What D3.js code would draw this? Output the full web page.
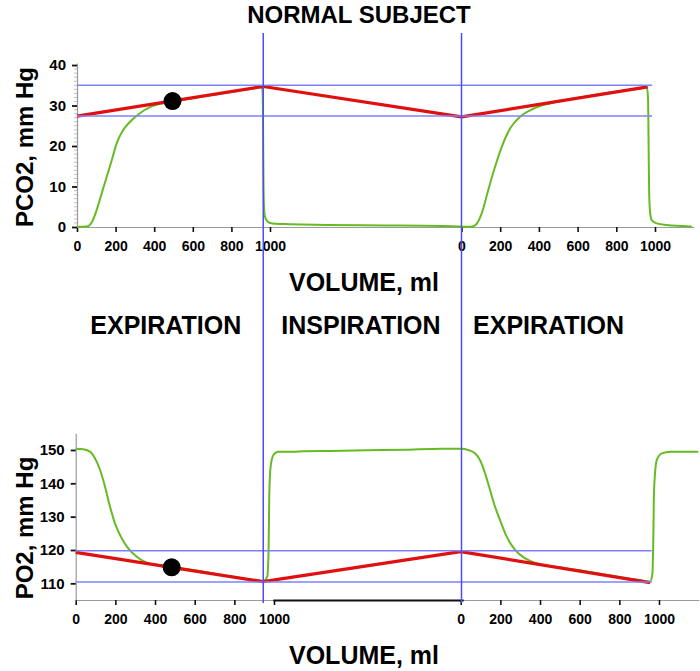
<!DOCTYPE html>
<html>
<head>
<meta charset="utf-8">
<script src="https://cdn.jsdelivr.net/npm/d3@7"></script>
<style>
  body { margin: 0; background: #fff; }
  svg { display: block; }
  text { font-family: "Liberation Sans", Arial, sans-serif; font-weight: bold; fill: #000; }
</style>
</head>
<body>
<svg id="chart" width="700" height="671"></svg>
<script>
// ---------- DATA ----------
// x position: first expiration 0..1000 ml, inspiration plotted 1000..2000, second expiration 2000 + volume
const xTickValues = [0, 200, 400, 600, 800, 1000, 2000, 2200, 2400, 2600, 2800, 3000];
const xTickLabels = ["0", "200", "400", "600", "800", "1000", "0", "200", "400", "600", "800", "1000"];
const phaseLabels = ["EXPIRATION", "INSPIRATION", "EXPIRATION"];
const phaseCenters = [460, 1475, 2450];
const phaseBoundaries = [965, 2000];

const pco2Ticks = [0, 10, 20, 30, 40];
const po2Ticks = [110, 120, 130, 140, 150];

const pco2Green = [
  [0,0],[50,0.1],[76,1.1],[102,4.2],[128,8.3],[154,12.4],[180,16.5],[206,20.7],[240,24.0],[275,26.0],
  [326,28.1],[378,29.6],[430,30.4],[500,31.0],[600,31.8],[700,32.6],[800,33.4],[900,34.1],[958,34.5],
  [962,33.5],[964,25],[966,12],[969,5],[974,2.5],[985,1.5],[1000,1.0],[1030,0.8],[1100,0.7],[1300,0.5],
  [1600,0.4],[1900,0.25],[1990,0.1],[2044,0.05],[2070,0.4],[2104,3.3],[2138,9.1],[2173,14.8],[2208,19.8],
  [2251,24.3],[2302,27.2],[2371,29.2],[2457,30.5],[2550,31.5],[2650,32.3],[2750,33.1],[2850,33.8],
  [2938,34.3],[2958,34.5],[2964,32],[2967,20],[2970,8],[2975,3.5],[2983,1.7],[3009,0.9],[3060,0.5],
  [3145,0.25],[3190,0.1]
];
const pco2Red = [[0,27.4],[965,34.7],[2000,27.2],[2962,34.6]];
const pco2Ref = [35.0, 27.4];
const pco2RefEnd = 2985;
const pco2Dot = [495, 31.1];

const po2Green = [
  [0,150.4],[38,150.2],[72,149.5],[97,147.5],[123,144],[148,139],[173,133],[198,128],[232,123.5],
  [265,120.5],[308,118],[358,116.2],[425,115.4],[500,114.8],[600,113.9],[700,112.9],[800,111.9],
  [900,111],[945,110.6],[966,112],[973,121],[976,136],[983,145],[997,148.5],[1023,149.5],[1100,149.5],
  [1157,149.6],[1300,149.7],[1500,149.9],[1700,150.1],[1900,150.4],[2005,150.4],[2038,150],[2072,149],
  [2097,147],[2123,143],[2148,138],[2173,133],[2198,129],[2232,124],[2274,120],[2325,117.5],[2384,116],
  [2500,114.8],[2600,113.9],[2700,112.9],[2800,111.9],[2900,111],[2955,110.5],[2967,113],[2972,126],
  [2975,138],[2989,147],[3014,149],[3056,149.5],[3198,149.5]
];
const po2Red = [[0,119.3],[945,110.5],[2000,119.5],[2955,110.2]];
const po2Ref = [119.8, 110.4];
const po2RefEnd = 2963;
const po2Dot = [484, 114.8];

// ---------- DRAW ----------
const svg = d3.select("#chart");
const BLUE_V = "#4c4cff", BLUE_H = "#8080ff", RED = "#e01010", GREEN = "#66bb22", AXIS = "#9a9a9a";

const xTop = d3.scaleLinear().domain([0, 1000, 2000, 3000, 3200]).range([77, 270, 461.5, 655, 693.7]);
const yTop = d3.scaleLinear().domain([0, 40.5]).range([227, 63]);
const xBot = d3.scaleLinear().domain([0, 1000, 2000, 3000, 3200]).range([75.7, 274, 460.7, 659, 698.7]);
const yBot = d3.scaleLinear().domain([105, 155]).range([600, 433.3]);

function drawPanel(x, y, cfg) {
  const g = svg.append("g");
  // x axis
  const xAxis = d3.axisBottom(x).tickValues(xTickValues)
    .tickFormat((d, i) => xTickLabels[i]).tickSize(5).tickSizeOuter(0).tickPadding(6);
  const gx = g.append("g").attr("transform", `translate(0,${y.range()[0]})`).call(xAxis);
  gx.select(".domain").attr("stroke", AXIS).attr("stroke-width", 1.2);
  gx.selectAll(".tick line").attr("stroke", "#111").attr("stroke-width", 1.6);
  gx.selectAll(".tick text").style("font-size", "14px").style("font-weight", "bold")
    .attr("font-family", "Liberation Sans, Arial, sans-serif").attr("dy", "0.95em");
  if (cfg.thickSeg) {
    g.append("line").attr("x1", x(cfg.thickSeg[0])).attr("x2", x(cfg.thickSeg[1]))
      .attr("y1", y.range()[0] + 0.5).attr("y2", y.range()[0] + 0.5)
      .attr("stroke", "#111").attr("stroke-width", 2.2);
  }
  // y axis
  const yAxis = d3.axisLeft(y).tickValues(cfg.yTicks).tickSize(5).tickSizeOuter(0).tickPadding(6);
  const gy = g.append("g").attr("transform", `translate(${x(0)},0)`).call(yAxis);
  gy.select(".domain").attr("stroke", AXIS).attr("stroke-width", 1.2);
  gy.selectAll(".tick line").attr("stroke", "#111").attr("stroke-width", 1.8);
  gy.selectAll(".tick text").style("font-size", "15px").style("font-weight", "bold")
    .attr("font-family", "Liberation Sans, Arial, sans-serif");
  if (cfg.minor) {
    g.append("g").selectAll("line").data(cfg.minor).join("line")
      .attr("x1", x(0) - 3).attr("x2", x(0)).attr("y1", d => y(d)).attr("y2", d => y(d))
      .attr("stroke", "#b0b0b0").attr("stroke-width", 0.8);
  }
  // green curve
  g.append("path").datum(cfg.green)
    .attr("d", d3.line().x(d => x(d[0])).y(d => y(d[1])).curve(d3.curveMonotoneX))
    .attr("fill", "none").attr("stroke", GREEN).attr("stroke-width", 2);
  // red line
  g.append("path").datum(cfg.red)
    .attr("d", d3.line().x(d => x(d[0])).y(d => y(d[1])))
    .attr("fill", "none").attr("stroke", RED).attr("stroke-width", 3.2).attr("stroke-linejoin", "round");
  // blue reference lines
  g.append("g").selectAll("line").data(cfg.ref).join("line")
    .attr("x1", x(0)).attr("x2", x(cfg.refEnd)).attr("y1", d => y(d)).attr("y2", d => y(d))
    .attr("stroke", BLUE_H).attr("stroke-width", 1.5);
  // dot
  g.append("circle").attr("cx", x(cfg.dot[0])).attr("cy", y(cfg.dot[1])).attr("r", 9).attr("fill", "#000");
  // y label
  g.append("text").attr("transform", `translate(33,${cfg.labelY}) rotate(-90)`)
    .attr("text-anchor", "middle").style("font-size", "24px").text(cfg.label);
}

drawPanel(xTop, yTop, {
  yTicks: pco2Ticks, minor: d3.range(0, 41, 1).filter(d => d % 10 !== 0),
  green: pco2Green, red: pco2Red, ref: pco2Ref, refEnd: pco2RefEnd, dot: pco2Dot,
  label: "PCO2, mm Hg", labelY: 147
});
drawPanel(xBot, yBot, {
  yTicks: po2Ticks, thickSeg: [997, 2015],
  green: po2Green, red: po2Red, ref: po2Ref, refEnd: po2RefEnd, dot: po2Dot,
  label: "PO2, mm Hg", labelY: 528
});

// phase boundary lines spanning both panels
svg.append("g").selectAll("line").data(phaseBoundaries).join("line")
  .attr("x1", d => xTop(d)).attr("x2", d => xTop(d)).attr("y1", 33).attr("y2", 603)
  .attr("stroke", BLUE_V).attr("stroke-width", 1.5);

// titles
svg.append("text").attr("x", 359).attr("y", 23).attr("text-anchor", "middle")
  .style("font-size", "24px").text("NORMAL SUBJECT");
svg.append("text").attr("x", 364).attr("y", 291).attr("text-anchor", "middle")
  .style("font-size", "25px").text("VOLUME, ml");
svg.append("text").attr("x", 364).attr("y", 664).attr("text-anchor", "middle")
  .style("font-size", "25px").text("VOLUME, ml");
svg.append("g").selectAll("text").data(phaseLabels).join("text")
  .attr("x", (d, i) => xTop(phaseCenters[i])).attr("y", 334).attr("text-anchor", "middle")
  .style("font-size", "25px").text(d => d);
</script>
</body>
</html>
